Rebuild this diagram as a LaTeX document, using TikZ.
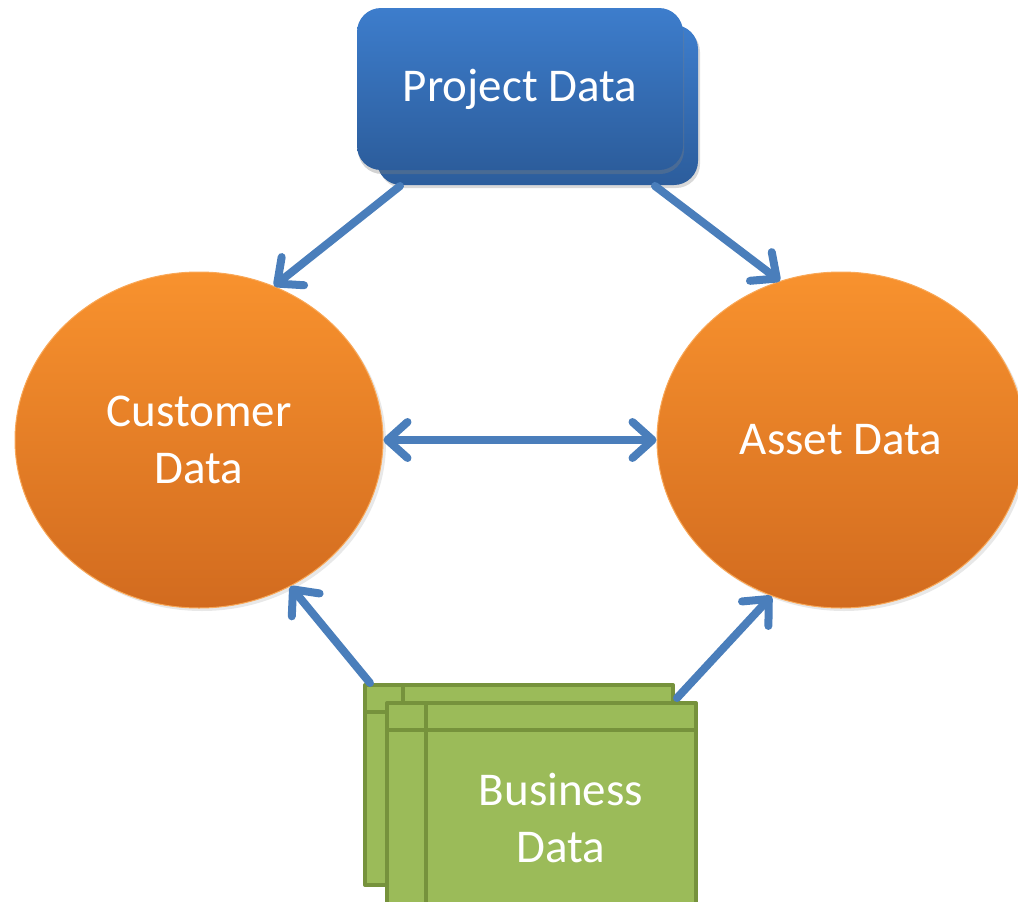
\documentclass[tikz,border=0pt]{standalone}
\usepackage{fontspec}
\setmainfont{Carlito}
\usetikzlibrary{arrows.meta,shadows,calc,shapes.geometric}
\definecolor{linkblue}{HTML}{4A7EBB}
\definecolor{projtop}{HTML}{3D7DCC}
\definecolor{projbot}{HTML}{2C5D9C}
\definecolor{orangetop}{HTML}{F8922E}
\definecolor{orangebot}{HTML}{D26B1F}
\definecolor{bizfill}{HTML}{9BBB59}
\definecolor{bizline}{HTML}{76923C}
\tikzset{
  barb/.tip={Straight Barb[length=20pt, width=36pt, line width=8pt, round]},
  label text/.style={text=white, font=\fontsize{47}{57}\selectfont, align=center},
  datacircle/.style={ellipse, inner sep=0pt, minimum width=368pt, minimum height=336pt,
    top color=orangetop, bottom color=orangebot, draw=orangetop!80!white, line width=1pt,
    drop shadow={opacity=0.18, shadow xshift=3pt, shadow yshift=-3pt}},
  projbox/.style={rectangle, rounded corners=24pt, inner sep=0pt,
    top color=projtop, bottom color=projbot},
  bizcard/.style={fill=bizfill, draw=bizline, line width=4pt, line join=round},
  link/.style={draw=linkblue, line width=8pt, line cap=round, -{barb}},
  twoway/.style={draw=linkblue, line width=8pt, line cap=round, {barb}-{barb}}
}
\begin{document}
\begin{tikzpicture}[x=1pt, y=-1pt]
  \useasboundingbox (0,0) rectangle (1018,902);
  \clip (0,0) rectangle (1018,902);

  % Project Data: stacked rounded boxes
  \node[projbox, minimum width=321pt, minimum height=160pt,
        drop shadow={opacity=0.3, shadow xshift=2pt, shadow yshift=-3pt}] (projback) at (537.5,105) {};
  \node[projbox, minimum width=326pt, minimum height=162pt,
        drop shadow={opacity=0.35, shadow xshift=1pt, shadow yshift=-4pt}] (proj) at (520,89) {};
  \node[label text] (projtext) at (proj.center) {Project Data};

  % Customer and Asset circles
  \node[datacircle, label text] (cust) at (199,440) {Customer\\Data};
  \node[datacircle, label text] (asset) at (841,440) {Asset Data};

  % Business Data: stacked window cards
  \draw[bizcard] (365,685) rectangle (673,885);
  \draw[bizline, line width=4pt] (403,685) -- (403,885);
  \draw[bizline, line width=4pt] (365,712) -- (673,712);
  \draw[bizcard] (387,703) rectangle (696,915);
  \draw[bizline, line width=4pt] (426,703) -- (426,915);
  \draw[bizline, line width=4pt] (387,730) -- (696,730);
  \node[label text, inner sep=0pt] (biz) at (561,818) {Business\\Data};

  % connector anchors on the boxes
  \coordinate (projL) at (400,186);
  \coordinate (projR) at (655,186);
  \coordinate (bizL) at (370,683);
  \coordinate (bizR) at (677,698);

  % connectors
  \draw[link] (projL) -- (cust.64);
  \draw[link] (projR) -- (asset.111);
  \draw[twoway] (cust.east) -- (asset.west);
  \draw[link] (bizL) -- (cust.-58);
  \draw[link] (bizR) -- (asset.-114);
\end{tikzpicture}
\end{document}
